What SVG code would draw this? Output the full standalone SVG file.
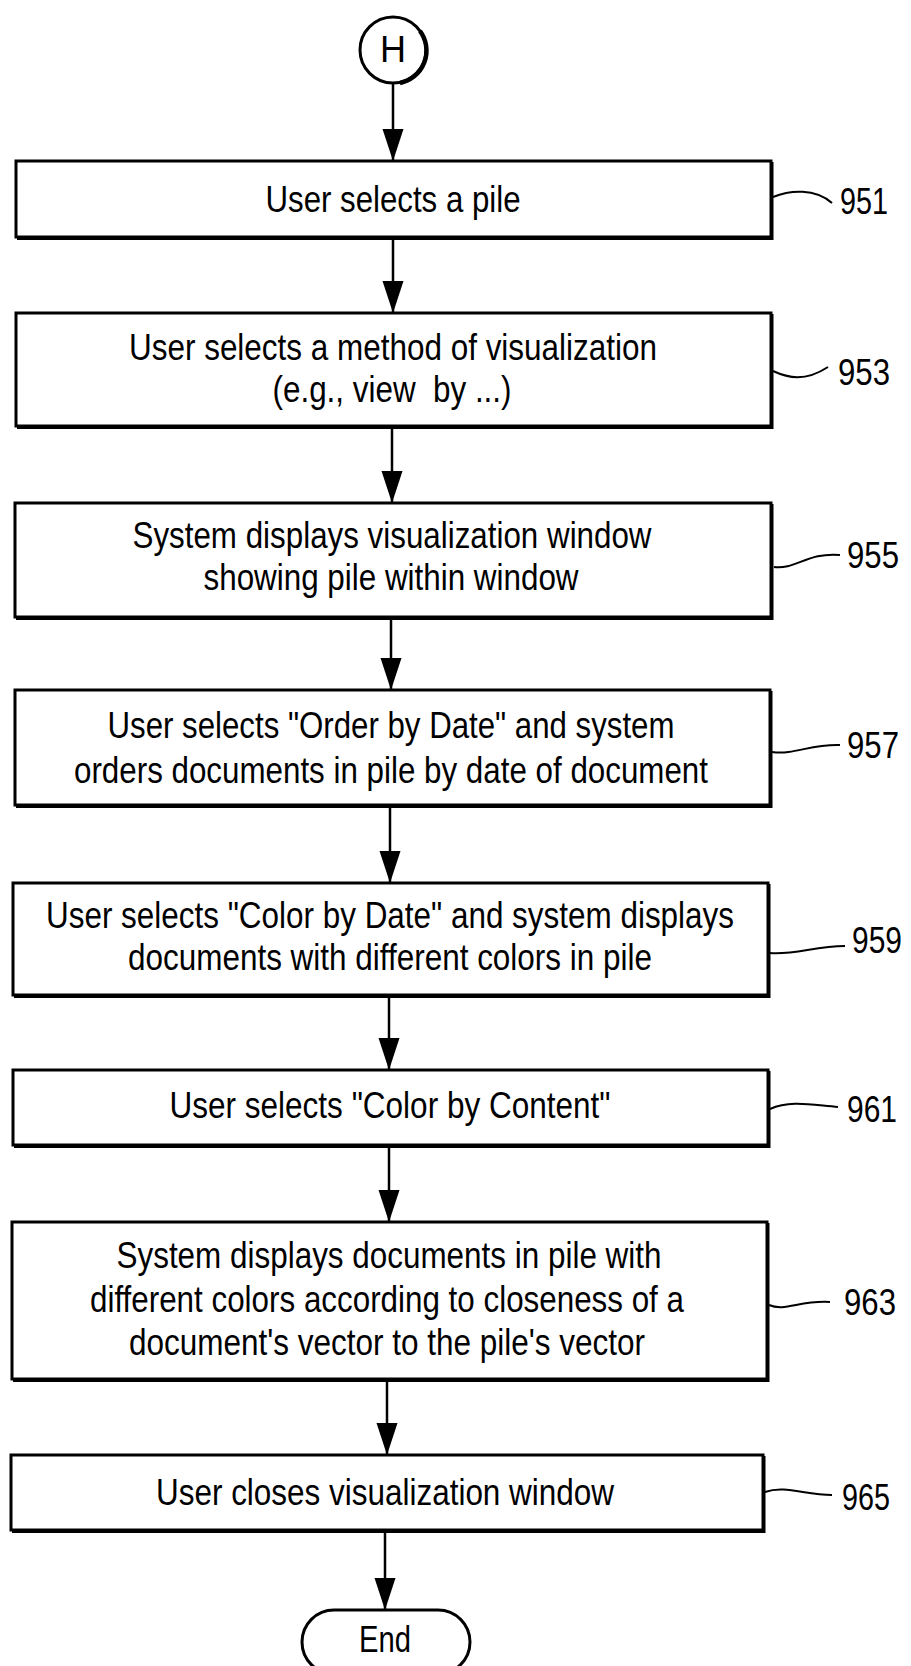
<svg xmlns="http://www.w3.org/2000/svg" width="911" height="1666" viewBox="0 0 911 1666">
<defs>
<style>
.box{fill:#fff;stroke:#000;stroke-width:3}
.sh{fill:none;stroke:#000;stroke-width:3}
.t{font-family:"Liberation Sans",Arial,sans-serif;font-size:36px;fill:#000;text-anchor:middle}
.lbl{font-family:"Liberation Sans",Arial,sans-serif;font-size:36px;fill:#000}
.ld{fill:none;stroke:#000;stroke-width:2}
.ar{fill:none;stroke:#000;stroke-width:2.5}
</style>
<marker id="ah" viewBox="0 -11 32 22" refX="32" refY="0" markerWidth="32" markerHeight="22" markerUnits="userSpaceOnUse" orient="auto">
<path d="M0,-10.5 L32,0 L0,10.5 Z" fill="#000"/>
</marker>
</defs>
<rect width="911" height="1666" fill="#fff"/>

<g id="connectors">
<line class="ar" x1="393" y1="84" x2="393" y2="161" marker-end="url(#ah)"/>
<line class="ar" x1="393" y1="238" x2="393" y2="313" marker-end="url(#ah)"/>
<line class="ar" x1="392" y1="427" x2="392" y2="503" marker-end="url(#ah)"/>
<line class="ar" x1="391" y1="618" x2="391" y2="690" marker-end="url(#ah)"/>
<line class="ar" x1="390" y1="806" x2="390" y2="883" marker-end="url(#ah)"/>
<line class="ar" x1="389" y1="996" x2="389" y2="1070" marker-end="url(#ah)"/>
<line class="ar" x1="389" y1="1146" x2="389" y2="1222" marker-end="url(#ah)"/>
<line class="ar" x1="387" y1="1380" x2="387" y2="1455" marker-end="url(#ah)"/>
<line class="ar" x1="385" y1="1531" x2="385" y2="1610" marker-end="url(#ah)"/>
</g>

<g id="start">
<circle cx="393" cy="50" r="33" fill="#fff" stroke="#000" stroke-width="3"/>
<path d="M420,31 A33,33 0 0 1 400,83" fill="none" stroke="#000" stroke-width="4.5"/>
<text class="t" x="393" y="62" textLength="26" lengthAdjust="spacingAndGlyphs">H</text>
</g>

<g id="n951">
<rect class="box" x="16" y="161" width="755" height="76"/>
<path class="sh" d="M772,162 V238.5 H17"/>
<text class="t" x="393" y="212" textLength="255" lengthAdjust="spacingAndGlyphs">User selects a pile</text>
<path class="ld" d="M773,197 C790,190 815,188 832,203"/>
<text class="lbl" x="840" y="214" textLength="48" lengthAdjust="spacingAndGlyphs">951</text>
</g>

<g id="n953">
<rect class="box" x="16" y="313" width="755" height="113"/>
<path class="sh" d="M772,314 V427.5 H17"/>
<text class="t" x="393" y="360" textLength="528" lengthAdjust="spacingAndGlyphs">User selects a method of visualization</text>
<text class="t" x="392" y="402" textLength="239" lengthAdjust="spacingAndGlyphs">(e.g., view&#160; by ...)</text>
<path class="ld" d="M773,371 C788,378 805,382 828,367"/>
<text class="lbl" x="838" y="385" textLength="52" lengthAdjust="spacingAndGlyphs">953</text>
</g>

<g id="n955">
<rect class="box" x="15" y="503" width="756" height="114"/>
<path class="sh" d="M772,504 V618.5 H16"/>
<text class="t" x="392" y="548" textLength="519" lengthAdjust="spacingAndGlyphs">System displays visualization window</text>
<text class="t" x="391" y="590" textLength="375" lengthAdjust="spacingAndGlyphs">showing pile within window</text>
<path class="ld" d="M774,567 C795,570 808,552 840,555"/>
<text class="lbl" x="847" y="568" textLength="52" lengthAdjust="spacingAndGlyphs">955</text>
</g>

<g id="n957">
<rect class="box" x="15" y="690" width="755" height="115"/>
<path class="sh" d="M771,691 V806.5 H16"/>
<text class="t" x="391" y="738" textLength="567" lengthAdjust="spacingAndGlyphs">User selects "Order by Date" and system</text>
<text class="t" x="391" y="783" textLength="634" lengthAdjust="spacingAndGlyphs">orders documents in pile by date of document</text>
<path class="ld" d="M772,752 C795,755 810,744 840,745"/>
<text class="lbl" x="847" y="758" textLength="52" lengthAdjust="spacingAndGlyphs">957</text>
</g>

<g id="n959">
<rect class="box" x="13" y="883" width="755" height="112"/>
<path class="sh" d="M769,884 V996.5 H14"/>
<text class="t" x="390" y="928" textLength="688" lengthAdjust="spacingAndGlyphs">User selects "Color by Date" and system displays</text>
<text class="t" x="390" y="970" textLength="524" lengthAdjust="spacingAndGlyphs">documents with different colors in pile</text>
<path class="ld" d="M770,953 C795,955 815,946 845,946"/>
<text class="lbl" x="852" y="953" textLength="50" lengthAdjust="spacingAndGlyphs">959</text>
</g>

<g id="n961">
<rect class="box" x="13" y="1070" width="755" height="75"/>
<path class="sh" d="M769,1071 V1146.5 H14"/>
<text class="t" x="390" y="1118" textLength="441" lengthAdjust="spacingAndGlyphs">User selects "Color by Content"</text>
<path class="ld" d="M770,1109 C790,1100 812,1105 838,1107"/>
<text class="lbl" x="847" y="1122" textLength="50" lengthAdjust="spacingAndGlyphs">961</text>
</g>

<g id="n963">
<rect class="box" x="12" y="1222" width="755" height="157"/>
<path class="sh" d="M768,1223 V1380.5 H13"/>
<text class="t" x="389" y="1268" textLength="545" lengthAdjust="spacingAndGlyphs">System displays documents in pile with</text>
<text class="t" x="387" y="1312" textLength="594" lengthAdjust="spacingAndGlyphs">different colors according to closeness of a</text>
<text class="t" x="387" y="1355" textLength="516" lengthAdjust="spacingAndGlyphs">document's vector to the pile's vector</text>
<path class="ld" d="M769,1305 C785,1312 800,1300 830,1302"/>
<text class="lbl" x="844" y="1315" textLength="52" lengthAdjust="spacingAndGlyphs">963</text>
</g>

<g id="n965">
<rect class="box" x="11" y="1455" width="752" height="75"/>
<path class="sh" d="M764,1456 V1531.5 H12"/>
<text class="t" x="385" y="1505" textLength="458" lengthAdjust="spacingAndGlyphs">User closes visualization window</text>
<path class="ld" d="M765,1492 C785,1485 805,1495 832,1495"/>
<text class="lbl" x="842" y="1510" textLength="48" lengthAdjust="spacingAndGlyphs">965</text>
</g>

<g id="end">
<rect x="302" y="1610" width="168" height="64" rx="32" ry="32" fill="#fff" stroke="#000" stroke-width="3"/>
<text class="t" x="385" y="1652" textLength="52" lengthAdjust="spacingAndGlyphs">End</text>
</g>
</svg>
